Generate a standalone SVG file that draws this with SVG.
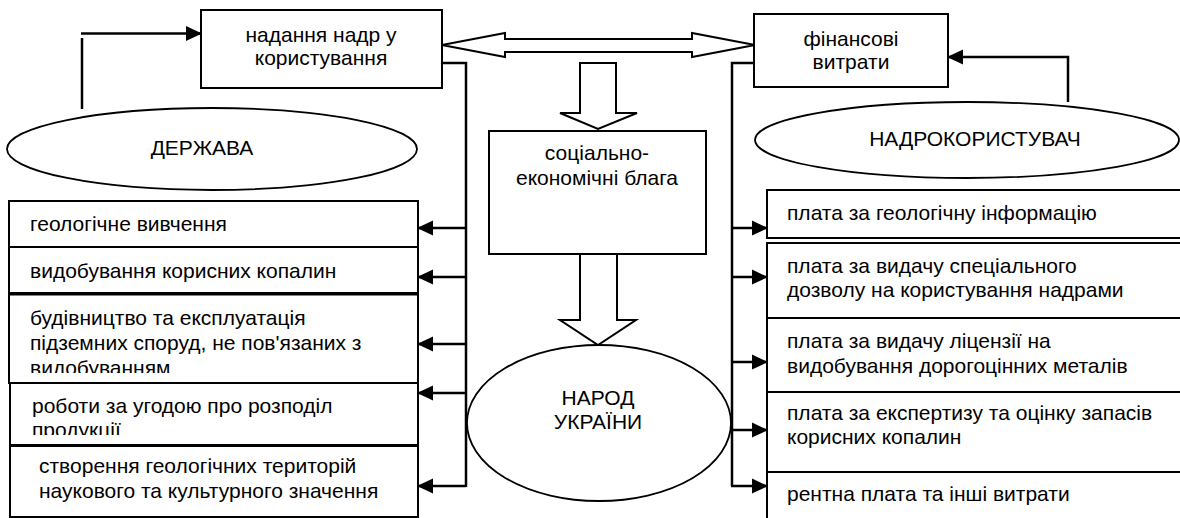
<svg xmlns="http://www.w3.org/2000/svg" width="1180" height="518" viewBox="0 0 1180 518">
<style>
  .box { fill: #fff; stroke: #000; stroke-width: 2; }
  .ell { fill: #fff; stroke: #000; stroke-width: 1.8; }
  .t { font-family: "Liberation Sans", Arial, sans-serif; font-size: 21px; fill: #000; }
  .c { text-anchor: middle; }
  .ln { fill: none; stroke: #000; stroke-width: 2.5; }
  .blk { fill: #fff; stroke: #000; stroke-width: 2; stroke-linejoin: miter; }
</style>
<defs>
  <marker id="ah2" markerWidth="16" markerHeight="16" refX="15" refY="8" orient="auto" markerUnits="userSpaceOnUse" viewBox="0 0 16 16">
    <path d="M0,0.5 L16,8 L0,15.5 Z" fill="#000"/>
  </marker>
  <clipPath id="clip3"><rect x="0" y="290" width="420" height="83"/></clipPath>
  <clipPath id="clip4"><rect x="0" y="380" width="420" height="55"/></clipPath>
</defs>

<g id="connectors">
  <line class="ln" x1="82" y1="38" x2="82" y2="109"/>
  <line class="ln" x1="81" y1="33.5" x2="201" y2="33.5" marker-end="url(#ah2)"/>
  <polyline class="ln" points="1068,102 1068,57 948,57" marker-end="url(#ah2)"/>
  <polyline class="ln" points="442,63 466,63 466,487"/>
  <line class="ln" x1="466" y1="228" x2="418" y2="228" marker-end="url(#ah2)"/>
  <line class="ln" x1="466" y1="277" x2="418" y2="277" marker-end="url(#ah2)"/>
  <line class="ln" x1="466" y1="344" x2="418" y2="344" marker-end="url(#ah2)"/>
  <line class="ln" x1="466" y1="393" x2="418" y2="393" marker-end="url(#ah2)"/>
  <line class="ln" x1="466" y1="486" x2="418" y2="486" marker-end="url(#ah2)"/>
  <polyline class="ln" points="755,63 732,63 732,486"/>
  <line class="ln" x1="732" y1="228" x2="767" y2="228" marker-end="url(#ah2)"/>
  <line class="ln" x1="732" y1="277" x2="767" y2="277" marker-end="url(#ah2)"/>
  <line class="ln" x1="732" y1="362" x2="767" y2="362" marker-end="url(#ah2)"/>
  <line class="ln" x1="732" y1="430" x2="767" y2="430" marker-end="url(#ah2)"/>
  <line class="ln" x1="731" y1="486" x2="767" y2="486" marker-end="url(#ah2)"/>
  <polygon class="blk" points="442,45 505,33 505,39 692,39 692,33 755,45 692,57 692,52 505,52 505,57"/>
  <polygon class="blk" points="580,63 616,63 616,113 637,113 598,129 560,113 580,113"/>
  <polygon class="blk" points="580,247 617,247 617,320 636,320 598,345 560,320 580,320"/>
</g>

<g id="node-nadannia">
  <rect class="box" x="201" y="10" width="241" height="78"/>
  <text class="t c" x="321" y="42">надання надр у</text>
  <text class="t c" x="321" y="65">користування</text>
</g>

<g id="node-finansovi">
  <rect class="box" x="754" y="14" width="194" height="73"/>
  <text class="t c" x="851" y="46">фінансові</text>
  <text class="t c" x="851" y="69">витрати</text>
</g>

<g id="node-derzhava">
  <ellipse class="ell" cx="212" cy="149" rx="205" ry="41"/>
  <text class="t c" x="202" y="155">ДЕРЖАВА</text>
</g>

<g id="node-nadrokorystuvach">
  <ellipse class="ell" cx="967" cy="140" rx="212" ry="38"/>
  <text class="t c" x="975" y="146">НАДРОКОРИСТУВАЧ</text>
</g>

<g id="node-blaga">
  <rect class="box" x="489" y="131" width="217" height="123"/>
  <text class="t c" x="597" y="160">соціально-</text>
  <text class="t c" x="597" y="185">економічні блага</text>
</g>

<g id="node-narod">
  <ellipse class="ell" cx="599" cy="423" rx="132" ry="78"/>
  <text class="t c" x="598" y="405">НАРОД</text>
  <text class="t c" x="598" y="429">УКРАЇНИ</text>
</g>

<g id="left-1">
  <rect class="box" x="9" y="201" width="409" height="46"/>
  <text class="t" x="30" y="231">геологічне вивчення</text>
</g>
<g id="left-2">
  <rect class="box" x="9" y="247" width="409" height="46"/>
  <text class="t" x="30" y="278">видобування корисних копалин</text>
</g>
<g id="left-3">
  <rect class="box" x="9" y="294" width="409" height="89"/>
  <line x1="9" y1="294" x2="418" y2="294" stroke="#000" stroke-width="3"/>
  <g clip-path="url(#clip3)">
    <text class="t" x="30" y="325">будівництво та експлуатація</text>
    <text class="t" x="30" y="350">підземних споруд, не пов'язаних з</text>
    <text class="t" x="30" y="375">видобуванням</text>
  </g>
</g>
<g id="left-4">
  <rect class="box" x="10" y="383" width="408" height="62"/>
  <g clip-path="url(#clip4)">
    <text class="t" x="32" y="413">роботи за угодою про розподіл</text>
    <text class="t" x="32" y="437">продукції</text>
  </g>
</g>
<g id="left-5">
  <rect class="box" x="10" y="446" width="408" height="71"/>
  <text class="t" x="39" y="473">створення геологічних територій</text>
  <text class="t" x="39" y="498">наукового та культурного значення</text>
</g>

<g id="right-1">
  <rect class="box" x="767" y="190" width="425" height="48"/>
  <text class="t" x="787" y="220">плата за геологічну інформацію</text>
</g>
<g id="right-2">
  <rect class="box" x="767" y="243" width="425" height="75"/>
  <text class="t" x="787" y="273">плата за видачу спеціального</text>
  <text class="t" x="787" y="297">дозволу на користування надрами</text>
</g>
<g id="right-3">
  <rect class="box" x="767" y="318" width="425" height="74"/>
  <text class="t" x="787" y="348">плата за видачу ліцензії на</text>
  <text class="t" x="787" y="373">видобування дорогоцінних металів</text>
</g>
<g id="right-4">
  <rect class="box" x="767" y="392" width="425" height="80"/>
  <text class="t" x="787" y="420">плата за експертизу та оцінку запасів</text>
  <text class="t" x="787" y="444">корисних копалин</text>
</g>
<g id="right-5">
  <rect class="box" x="767" y="472" width="425" height="50"/>
  <text class="t" x="787" y="501">рентна плата та інші витрати</text>
</g>
</svg>
